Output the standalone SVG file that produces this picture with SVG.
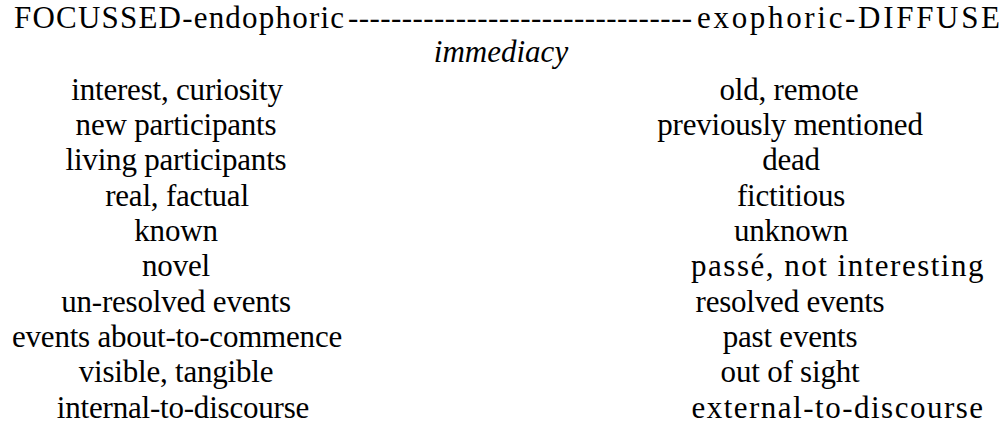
<svg xmlns="http://www.w3.org/2000/svg" width="1007" height="428" viewBox="0 0 1007 428">
  <style>
    text { font-family: "Liberation Serif", "Times New Roman", serif; font-size: 31px; fill: #000; letter-spacing: -0.2px; }
    .head { letter-spacing: 0; }
    .it { font-style: italic; letter-spacing: 0; }
    .wide { letter-spacing: 1.5px; }
    .c { text-anchor: middle; }
  </style>
  <rect width="1007" height="428" fill="#fff"/>

  <!-- scale axis: the two poles joined by a dashed run -->
  <g id="axis">
    <text class="head" x="14" y="28" textLength="330" lengthAdjust="spacing">FOCUSSED-endophoric</text>
    <text class="head" x="348" y="28" textLength="344" lengthAdjust="spacing">--------------------------------</text>
    <text class="head" x="697" y="28" textLength="303" lengthAdjust="spacing">exophoric-DIFFUSE</text>
    <text class="it c" x="501" y="62">immediacy</text>
  </g>

  <!-- focussed pole features -->
  <g id="focussed">
    <text class="c" x="177" y="100">interest, curiosity</text>
    <text class="c" x="176" y="135">new participants</text>
    <text class="c" x="176" y="170">living participants</text>
    <text class="c" x="177" y="206">real, factual</text>
    <text class="c" x="176" y="241">known</text>
    <text class="c" x="176" y="276">novel</text>
    <text class="c" x="176" y="312">un-resolved events</text>
    <text class="c" x="177" y="347">events about-to-commence</text>
    <text class="c" x="176" y="382">visible, tangible</text>
    <text class="c" x="183" y="418">internal-to-discourse</text>
  </g>

  <!-- diffuse pole features -->
  <g id="diffuse">
    <text class="c" x="789" y="100">old, remote</text>
    <text class="c" x="790" y="135">previously mentioned</text>
    <text class="c" x="791" y="170">dead</text>
    <text class="c" x="791" y="206">fictitious</text>
    <text class="c" x="791" y="241">unknown</text>
    <text class="c wide" x="838" y="276">passé, not interesting</text>
    <text class="c" x="790" y="312">resolved events</text>
    <text class="c" x="790" y="347">past events</text>
    <text class="c" x="790" y="382">out of sight</text>
    <text class="c wide" x="838" y="418">external-to-discourse</text>
  </g>
</svg>
